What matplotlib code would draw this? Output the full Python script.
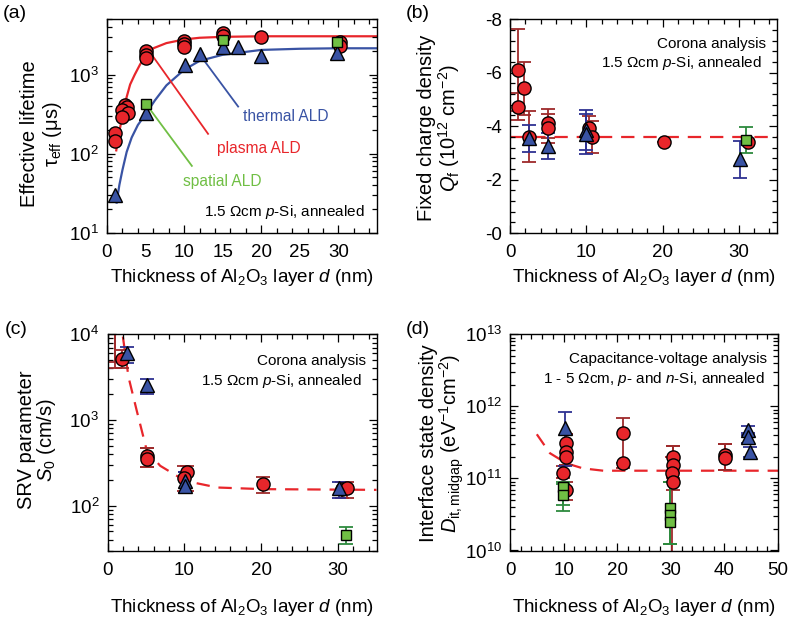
import numpy as np
import matplotlib
matplotlib.use('Agg')
import matplotlib.pyplot as plt
from matplotlib.ticker import MultipleLocator, LogLocator, NullFormatter, FuncFormatter, FixedLocator

plt.rcParams['font.family'] = ['Liberation Sans', 'DejaVu Sans']
plt.rcParams['mathtext.fontset'] = 'custom'
plt.rcParams['mathtext.rm'] = 'Liberation Sans'
plt.rcParams['mathtext.it'] = 'Liberation Sans:italic'
plt.rcParams['mathtext.sf'] = 'Liberation Sans'
plt.rcParams['mathtext.default'] = 'regular'

RED = '#e8262b'
DRED = '#9e2a2b'
BLUE = '#3953a4'
DBLUE = '#2e3192'
GREEN = '#70bf44'
DGREEN = '#2d8a3e'

# ---------------- Panel (a): effective lifetime ----------------
a_plasma_d = [1.0, 1.0, 2.3, 2.55, 2.0, 2.75, 1.9, 5.0, 5.0, 5.0, 10.0, 10.0, 10.0, 15.0, 15.0, 20.0, 30.2, 30.2]
a_plasma_tau = [180, 145, 413, 394, 355, 322, 292, 2000, 1780, 1600, 2680, 2430, 2200, 3330, 3100, 3020, 2550, 2310]
a_thermal_d = [1.0, 5.1, 10.1, 12.0, 15.0, 17.0, 20.0, 29.8]
a_thermal_tau = [30, 325, 1340, 1800, 2230, 2200, 1720, 1900]
a_spatial_d = [5.1, 15.0, 29.8]
a_spatial_tau = [420, 2730, 2600]
a_fit_plasma_d = [1.2, 1.5, 2.0, 2.5, 3.0, 3.6, 4.3, 5.0, 6.0, 7.7, 10.0, 12.0, 15.0, 20.0, 35.0]
a_fit_plasma_tau = [110, 170, 300, 500, 750, 1000, 1350, 1700, 2150, 2500, 2780, 2920, 3000, 3050, 3050]
a_fit_thermal_d = [1.25, 1.6, 2.0, 2.55, 3.2, 4.0, 5.1, 6.2, 7.7, 10.0, 12.0, 15.0, 20.0, 25.0, 30.0, 35.0]
a_fit_thermal_tau = [24, 40, 62, 105, 160, 230, 325, 470, 730, 1150, 1490, 1780, 2050, 2120, 2150, 2150]
a_tick_labels = [0, 5, 10, 15, 20, 25, 30]

# ---------------- Panel (b): fixed charge density ----------------
b_plasma_d = [1.1, 1.8, 1.1, 2.5, 5.0, 5.0, 10.4, 10.7, 20.2, 31.2]
b_plasma_q = [-6.10, -5.42, -4.73, -3.61, -4.11, -3.92, -3.92, -3.61, -3.42, -3.42]
b_plasma_err = [1.55, 1.0, 0.5, 0.97, 0.55, 0.55, 0.45, 0.6, 0.0, 0.0]
b_thermal_d = [2.5, 5.0, 10.0, 10.0, 30.2]
b_thermal_q = [-3.55, -3.26, -3.86, -3.70, -2.76]
b_thermal_err = [0.5, 0.5, 0.75, 0.75, 0.7]
b_spatial_d = [31.0]
b_spatial_q = [-3.48]
b_spatial_err = [0.5]
b_mean_q = -3.61

# ---------------- Panel (c): SRV parameter ----------------
c_plasma_d = [1.0, 1.0, 1.9, 5.1, 5.1, 10.4, 10.0, 20.2, 30.5, 31.2]
c_plasma_s = [15000, 13000, 5100, 383, 351, 244, 210, 178, 156, 160]
c_plasma_lo = [4020, 4770, 4000, 280, 280, 150, 150, 142, 122, 122]
c_plasma_hi = [15000, 13000, 6500, 470, 470, 290, 290, 214, 187, 187]
c_thermal_d = [2.5, 5.1, 10.1, 10.1, 30.1]
c_thermal_s = [6080, 2540, 195, 170, 163]
c_thermal_lo = [4640, 2030, 142, 142, 122]
c_thermal_hi = [7150, 3040, 250, 250, 187]
c_spatial_d = [31.05]
c_spatial_s = [46]
c_spatial_lo = [36]
c_spatial_hi = [56]
c_fit_d = [2.0, 2.73, 3.8, 5.12, 6.86, 10.1, 14.3, 20.2, 35.0]
c_fit_s = [9400, 3180, 1290, 438, 292, 195, 163, 156, 153]

# ---------------- Panel (d): interface state density ----------------
d_plasma_d = [10.5, 10.5, 10.5, 9.9, 10.5, 21.1, 21.1, 30.4, 30.4, 30.2, 30.4, 40.2, 40.2]
d_plasma_dit = [3.07e11, 2.36e11, 2.0e11, 1.18e11, 6.9e10, 4.24e11, 1.62e11, 2.0e11, 1.54e11, 1.18e11, 9.0e10, 2.1e11, 1.9e11]
d_plasma_lo = [1.55e11, 1.55e11, 1.55e11, 1.0e11, 5e10, 1.62e11, 1.38e11, 1.2e11, 1.0e11, 5e9, 7e10, 1.33e11, 1.33e11]
d_plasma_hi = [4.2e11, 4.2e11, 4.2e11, 1.5e11, 9e10, 6.8e11, 1.62e11, 2.85e11, 2.85e11, 2.0e11, 1.2e11, 2.96e11, 2.96e11]
d_thermal_d = [10.2, 44.4, 44.4, 44.8]
d_thermal_dit = [4.97e11, 4.7e11, 3.7e11, 2.35e11]
d_thermal_lo = [1.5e11, 4.0e11, 3.1e11, 2.0e11]
d_thermal_hi = [8.4e11, 5.4e11, 4.3e11, 2.7e11]
d_spatial_d = [9.9, 9.9, 29.9, 29.9, 29.9]
d_spatial_dit = [7.7e10, 5.9e10, 3.9e10, 3.1e10, 2.5e10]
d_spatial_lo = [3.5e10, 4.3e10, 1.24e10, 1.24e10, 1.24e10]
d_spatial_hi = [9.0e10, 8.5e10, 8.9e10, 8.9e10, 8.9e10]
d_fit_d = [5.0, 7.45, 10.55, 13.6, 17.4, 50.0]
d_fit_dit = [4.1e11, 2.24e11, 1.62e11, 1.38e11, 1.28e11, 1.28e11]

XLABEL = 'Thickness of Al$_2$O$_3$ layer $\\it{d}$ (nm)'

W, H = 793, 624
fig = plt.figure(figsize=(W / 100, H / 100), dpi=100)

def px_axes(l, t, r, b):
    return fig.add_axes([l / W, 1 - b / H, (r - l) / W, (b - t) / H])

axA = px_axes(107, 19.3, 377, 232.7)
axB = px_axes(510, 19.3, 777, 233)
axC = px_axes(107.5, 334.3, 376.5, 550.5)
axD = px_axes(510, 334.3, 778, 550.5)

TFS = 13.5   # tick labels
LFS = 13.5   # axis labels
NFS = 11.2   # annotations
for ax in (axA, axB, axC, axD):
    ax.tick_params(which='both', direction='in', top=True, right=True, labelsize=TFS, width=0.9)
    ax.tick_params(which='major', length=6)
    ax.tick_params(which='minor', length=3.5)
    ax.tick_params(axis='x', which='major', pad=8)
    ax.tick_params(axis='y', which='major', pad=6)
    for sp in ax.spines.values():
        sp.set_linewidth(1.0)

MS_C = 9.5
MS_T = 10
MS_S = 7.5

def errs(y, lo, hi):
    y = np.asarray(y, float)
    return [y - np.asarray(lo, float), np.asarray(hi, float) - y]

def draw(ax, x, y, yerr, marker, fc, ec, ms):
    if yerr is not None:
        ax.errorbar(x, y, yerr=yerr, fmt='none', ecolor=ec, elinewidth=1.3, capsize=5, capthick=1.3, zorder=2)
    ax.plot(x, y, linestyle='none', marker=marker, markersize=ms, markerfacecolor=fc,
            markeredgecolor='black', markeredgewidth=1.0, zorder=3)

# ---- (a)
axA.set_yscale('log')
axA.plot(a_fit_plasma_d, a_fit_plasma_tau, color=RED, lw=1.6, zorder=1)
axA.plot(a_fit_thermal_d, a_fit_thermal_tau, color=BLUE, lw=1.6, zorder=1)
axA.plot([12.0, 17.0], [1800, 394], color=BLUE, lw=1.3, zorder=1)
axA.plot([5.6, 13.1], [1900, 178], color=RED, lw=1.3, zorder=1)
axA.plot([5.1, 11.0], [420, 70], color=GREEN, lw=1.3, zorder=1)
draw(axA, a_plasma_d, a_plasma_tau, None, 'o', RED, DRED, MS_C)
draw(axA, a_thermal_d, a_thermal_tau, None, '^', BLUE, DBLUE, MS_T)
draw(axA, a_spatial_d, a_spatial_tau, None, 's', GREEN, DGREEN, MS_S)
axA.text(17.6, 295, 'thermal ALD', color=BLUE, fontsize=NFS, ha='left', va='center')
axA.text(14.2, 115, 'plasma ALD', color=RED, fontsize=NFS, ha='left', va='center')
axA.text(9.8, 45, 'spatial ALD', color=GREEN, fontsize=NFS, ha='left', va='center')
axA.set_xlim(0, 35)
axA.set_ylim(10, 5000)
axA.xaxis.set_major_locator(FixedLocator(a_tick_labels))
axA.xaxis.set_minor_locator(MultipleLocator(2))
axA.yaxis.set_major_locator(LogLocator(base=10, numticks=10))
axA.yaxis.set_minor_locator(LogLocator(base=10, subs=np.arange(2, 10), numticks=10))
axA.yaxis.set_minor_formatter(NullFormatter())
for t, loc in zip(axA.xaxis.get_major_ticks(len(a_tick_labels)), a_tick_labels):
    if loc % 10 != 0:
        t.tick1line.set_visible(False)
        t.tick2line.set_visible(False)
axA.text(0.955, 0.095, '1.5 \u03A9cm $\\it{p}$-Si, annealed', transform=axA.transAxes, fontsize=11,
         ha='right', va='center')

# ---- (b)
axB.axhline(b_mean_q, color=RED, lw=1.6, dashes=(6, 4), zorder=1)
draw(axB, b_plasma_d, b_plasma_q, b_plasma_err, 'o', RED, DRED, MS_C)
draw(axB, b_thermal_d, b_thermal_q, b_thermal_err, '^', BLUE, DBLUE, MS_T)
draw(axB, b_spatial_d, b_spatial_q, b_spatial_err, 's', GREEN, DGREEN, MS_S)
axB.set_xlim(0, 35)
axB.set_ylim(0, -8)
axB.xaxis.set_major_locator(FixedLocator([0, 10, 20, 30]))
axB.xaxis.set_minor_locator(MultipleLocator(2))
axB.yaxis.set_major_locator(MultipleLocator(2))
axB.yaxis.set_minor_locator(MultipleLocator(0.4))
axB.yaxis.set_major_formatter(FuncFormatter(lambda v, p: '-%d' % abs(round(v))))
axB.text(0.96, 0.885, 'Corona analysis', transform=axB.transAxes, fontsize=11, ha='right', va='center')
axB.text(0.945, 0.795, '1.5 \u03A9cm $\\it{p}$-Si, annealed', transform=axB.transAxes, fontsize=11,
         ha='right', va='center')

# ---- (c)
axC.set_yscale('log')
axC.plot(c_fit_d, c_fit_s, color=RED, lw=1.6, dashes=(6, 4), zorder=1)
draw(axC, c_plasma_d, c_plasma_s, errs(c_plasma_s, c_plasma_lo, c_plasma_hi), 'o', RED, DRED, MS_C)
draw(axC, c_thermal_d, c_thermal_s, errs(c_thermal_s, c_thermal_lo, c_thermal_hi), '^', BLUE, DBLUE, MS_T)
draw(axC, c_spatial_d, c_spatial_s, errs(c_spatial_s, c_spatial_lo, c_spatial_hi), 's', GREEN, DGREEN, MS_S)
axC.set_xlim(0, 35)
axC.set_ylim(30, 1e4)
axC.xaxis.set_major_locator(FixedLocator([0, 10, 20, 30]))
axC.xaxis.set_minor_locator(MultipleLocator(2))
axC.yaxis.set_major_locator(LogLocator(base=10, numticks=10))
axC.yaxis.set_minor_locator(LogLocator(base=10, subs=np.arange(2, 10), numticks=10))
axC.yaxis.set_minor_formatter(NullFormatter())
axC.text(0.96, 0.875, 'Corona analysis', transform=axC.transAxes, fontsize=11, ha='right', va='center')
axC.text(0.945, 0.785, '1.5 \u03A9cm $\\it{p}$-Si, annealed', transform=axC.transAxes, fontsize=11,
         ha='right', va='center')

# ---- (d)
axD.set_yscale('log')
axD.plot(d_fit_d, d_fit_dit, color=RED, lw=1.6, dashes=(6, 4), zorder=1)
draw(axD, d_plasma_d, d_plasma_dit, errs(d_plasma_dit, d_plasma_lo, d_plasma_hi), 'o', RED, DRED, MS_C)
draw(axD, d_thermal_d, d_thermal_dit, errs(d_thermal_dit, d_thermal_lo, d_thermal_hi), '^', BLUE, DBLUE, MS_T)
draw(axD, d_spatial_d, d_spatial_dit, errs(d_spatial_dit, d_spatial_lo, d_spatial_hi), 's', GREEN, DGREEN, MS_S)
axD.set_xlim(0, 50)
axD.set_ylim(1e10, 1e13)
axD.xaxis.set_major_locator(MultipleLocator(10))
axD.xaxis.set_minor_locator(MultipleLocator(2))
axD.yaxis.set_major_locator(LogLocator(base=10, numticks=10))
axD.yaxis.set_minor_locator(LogLocator(base=10, subs=np.arange(2, 10), numticks=10))
axD.yaxis.set_minor_formatter(NullFormatter())
axD.text(0.96, 0.885, 'Capacitance-voltage analysis', transform=axD.transAxes, fontsize=11, ha='right', va='center')
axD.text(0.95, 0.795, '1 - 5 \u03A9cm, $\\it{p}$- and $\\it{n}$-Si, annealed', transform=axD.transAxes,
         fontsize=11, ha='right', va='center')

# x labels
for xc, yc in ((242, 277), (643.5, 277), (242, 607), (644, 607)):
    fig.text(xc / W, 1 - yc / H, XLABEL, fontsize=LFS, ha='center', va='center')

# y labels (two lines each)
YFS = 14.5
def ylab(x1, t1, x2, t2, ycen):
    fig.text(x1 / W, 1 - ycen / H, t1, rotation=90, ha='center', va='center', fontsize=YFS)
    fig.text(x2 / W, 1 - ycen / H, t2, rotation=90, ha='center', va='center', fontsize=YFS)

ylab(30, 'Effective lifetime', 53, '$\\tau_{\\rm eff}$ (\u03bcs)', 134)
ylab(426, 'Fixed charge density', 449, '$\\it{Q}_{\\rm f}$ (10$^{12}$ cm$^{-2}$)', 128)
ylab(26, 'SRV parameter', 47, '$\\it{S}_{\\rm 0}$ (cm/s)', 440)
ylab(428, 'Interface state density', 452, '$\\it{D}_{\\rm it,midgap}$ (eV$^{-1}$cm$^{-2}$)', 443)

for lab, x, y in (('(a)', 3, 14), ('(b)', 406, 14), ('(c)', 5, 330), ('(d)', 406, 330)):
    fig.text(x / W, 1 - y / H, lab, fontsize=14, ha='left', va='center')

fig.savefig('out.png', dpi=100)
